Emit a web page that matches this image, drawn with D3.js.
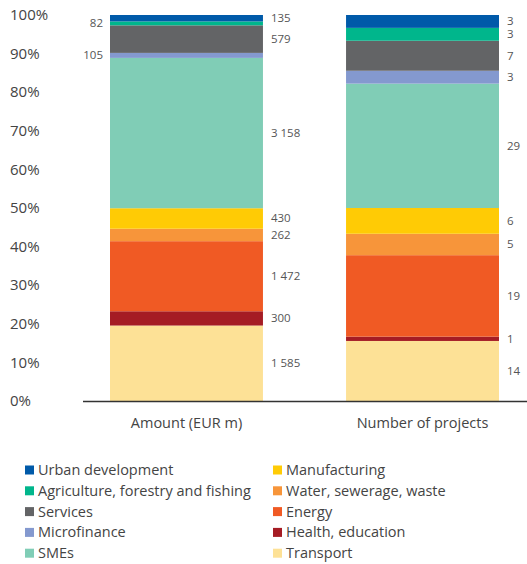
<!DOCTYPE html>
<html>
<head>
<meta charset="utf-8">
<script src="https://cdn.jsdelivr.net/npm/d3@7"></script>
<style>
  body { margin: 0; background: #fff; }
  svg { font-family: "Open Sans", "Noto Sans", sans-serif; }
</style>
</head>
<body>
<div id="chart"></div>
<script>
// sectors, bottom to top
var sectors = ["Transport", "Health, education", "Energy", "Water, sewerage, waste", "Manufacturing",
	"SMEs", "Microfinance", "Services", "Agriculture, forestry and fishing", "Urban development"];
var colors = ["#fde196", "#a51c24", "#f05a24", "#f7953a", "#ffcb05",
	"#80cdb6", "#8499cf", "#636466", "#00b68c", "#005aa9"];
var groups = ["Amount (EUR m)", "Number of projects"];
var amountValues = [1585, 300, 1472, 262, 430, 3158, 105, 579, 82, 135];
var projectValues = [14, 1, 19, 5, 6, 29, 3, 7, 3, 3];
var yTicks = [0, 10, 20, 30, 40, 50, 60, 70, 80, 90, 100];
// legend order (two columns)
var legendLeft = ["Urban development", "Agriculture, forestry and fishing", "Services", "Microfinance", "SMEs"];
var legendRight = ["Manufacturing", "Water, sewerage, waste", "Energy", "Health, education", "Transport"];
// labels drawn on the left side of the first bar
var leftLabelled = ["Microfinance", "Agriculture, forestry and fishing"];

var width = 527, height = 564;
var svg = d3.select("#chart").append("svg")
	.attr("width", width)
	.attr("height", height);

var x = d3.scaleBand().domain(groups).range([110, 499]).paddingInner(0.352).paddingOuter(0);
var y = d3.scaleLinear().domain([0, 100]).range([401, 15]);

function formatNum(n) {
	return d3.format(",")(n).replace(/,/g, " ");
}

// y tick labels
svg.append("g").selectAll("text")
	.data(yTicks)
	.enter().append("text")
	.attr("x", 10)
	.attr("y", function(d) { return y(d); })
	.attr("dy", "0.35em")
	.attr("font-size", 15)
	.attr("fill", "#444")
	.text(function(d) { return d + "%"; });

var series = [amountValues, projectValues];

series.forEach(function(vals, gi) {
	var total = d3.sum(vals);
	var acc = 0;
	var stack = vals.map(function(v, i) {
		var s = { key: sectors[i], value: v, y0: acc / total * 100, y1: (acc + v) / total * 100, color: colors[i] };
		acc += v;
		return s;
	});
	var g = svg.append("g");
	var bx = x(groups[gi]);
	g.selectAll("rect")
		.data(stack)
		.enter().append("rect")
		.attr("x", bx)
		.attr("width", x.bandwidth())
		.attr("y", function(d) { return y(d.y1); })
		.attr("height", function(d) { return y(d.y0) - y(d.y1); })
		.attr("fill", function(d) { return d.color; });

	g.selectAll("text.val")
		.data(stack)
		.enter().append("text")
		.attr("class", "val")
		.attr("x", function(d) {
			if (gi === 0 && leftLabelled.indexOf(d.key) >= 0) return bx - 7;
			return bx + x.bandwidth() + 8;
		})
		.attr("text-anchor", function(d) {
			return (gi === 0 && leftLabelled.indexOf(d.key) >= 0) ? "end" : "start";
		})
		.attr("y", function(d) { return y((d.y0 + d.y1) / 2); })
		.attr("dy", "0.35em")
		.attr("font-size", 11.5)
		.attr("fill", "#555")
		.text(function(d) { return formatNum(d.value); });
});

// baseline
svg.append("line")
	.attr("x1", 83).attr("x2", width)
	.attr("y1", y(0) + 0.5).attr("y2", y(0) + 0.5)
	.attr("stroke", "#333")
	.attr("stroke-width", 1.5);

// x axis labels
svg.append("g").selectAll("text")
	.data(groups)
	.enter().append("text")
	.attr("x", function(d) { return x(d) + x.bandwidth() / 2; })
	.attr("y", 423)
	.attr("dy", "0.35em")
	.attr("text-anchor", "middle")
	.attr("font-size", 14.5)
	.attr("fill", "#444")
	.text(function(d) { return d; });

// legend
function drawLegend(items, lx) {
	var lg = svg.append("g").selectAll("g")
		.data(items)
		.enter().append("g")
		.attr("transform", function(d, i) { return "translate(" + lx + "," + (470 + i * 20.8) + ")"; });
	lg.append("rect")
		.attr("x", 0).attr("y", -4.5)
		.attr("width", 9).attr("height", 9)
		.attr("fill", function(d) { return colors[sectors.indexOf(d)]; });
	lg.append("text")
		.attr("x", 13)
		.attr("dy", "0.35em")
		.attr("font-size", 14.5)
		.attr("fill", "#444")
		.text(function(d) { return d; });
}
drawLegend(legendLeft, 25);
drawLegend(legendRight, 273);
</script>
</body>
</html>
